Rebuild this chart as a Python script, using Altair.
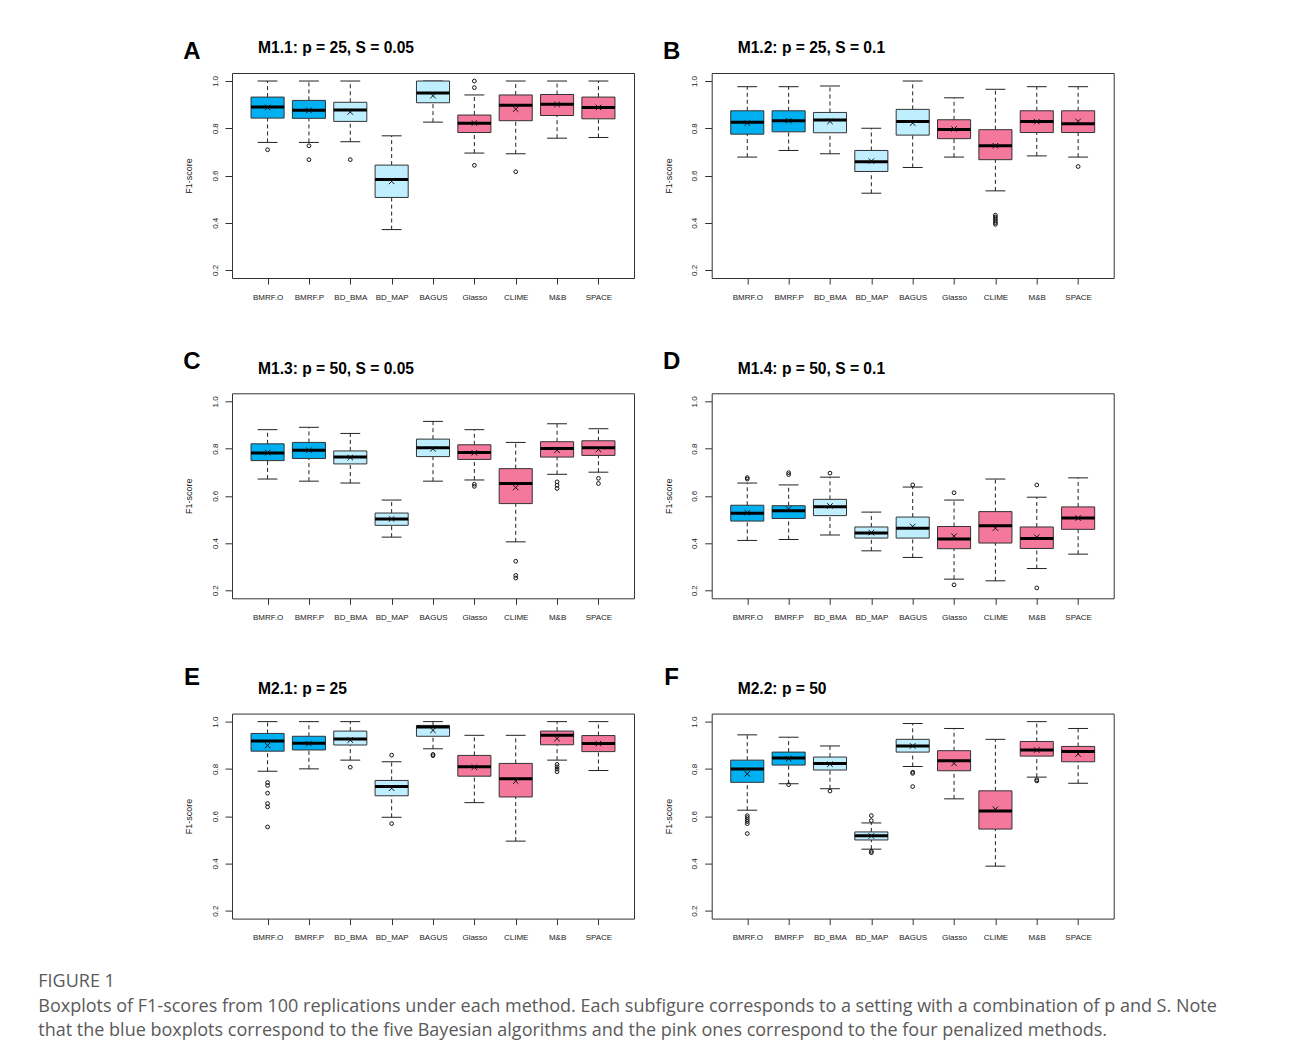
import altair as alt
import pandas as pd

methods = ["BMRF.O", "BMRF.P", "BD_BMA", "BD_MAP", "BAGUS", "Glasso", "CLIME", "M&B", "SPACE"]
groups = ["bayes_dark", "bayes_dark", "bayes_light", "bayes_light", "bayes_light",
          "penalized", "penalized", "penalized", "penalized"]
group_domain = ["bayes_dark", "bayes_light", "penalized"]
group_colors = ["#00B0F0", "#BFEFFF", "#F4779C"]

letters = ["A", "B", "C", "D", "E", "F"]
titles = ["M1.1: p = 25, S = 0.05", "M1.2: p = 25, S = 0.1",
          "M1.3: p = 50, S = 0.05", "M1.4: p = 50, S = 0.1",
          "M2.1: p = 25", "M2.2: p = 50"]
letter_dy = [-14.5, -14.5, -24.4, -24.4, -29, -29]

# Panel A
A_lo = [0.740, 0.740, 0.743, 0.371, 0.826, 0.695, 0.692, 0.758, 0.761]
A_q1 = [0.843, 0.842, 0.829, 0.507, 0.908, 0.782, 0.832, 0.854, 0.840]
A_med = [0.890, 0.876, 0.877, 0.583, 0.949, 0.821, 0.897, 0.902, 0.888]
A_q3 = [0.932, 0.918, 0.910, 0.644, 1.000, 0.856, 0.941, 0.943, 0.932]
A_hi = [1.000, 1.000, 1.000, 0.768, 1.000, 0.941, 1.000, 1.000, 1.000]
A_mean = [0.888, 0.876, 0.869, 0.575, 0.938, 0.822, 0.881, 0.901, 0.888]
A_out_m = ["BMRF.O", "BMRF.P", "BMRF.P", "BD_BMA", "Glasso", "Glasso", "Glasso", "CLIME"]
A_out_v = [0.709, 0.726, 0.667, 0.667, 1.000, 0.972, 0.643, 0.616]

# Panel B
B_lo = [0.678, 0.706, 0.692, 0.525, 0.634, 0.678, 0.535, 0.683, 0.678]
B_q1 = [0.775, 0.785, 0.781, 0.617, 0.771, 0.756, 0.667, 0.782, 0.782]
B_med = [0.825, 0.832, 0.835, 0.658, 0.829, 0.795, 0.726, 0.829, 0.819]
B_q3 = [0.874, 0.874, 0.867, 0.706, 0.880, 0.836, 0.794, 0.874, 0.874]
B_hi = [0.976, 0.976, 0.979, 0.800, 1.000, 0.929, 0.965, 0.976, 0.976]
B_mean = [0.822, 0.832, 0.829, 0.661, 0.822, 0.797, 0.726, 0.828, 0.829]
B_out_m = ["CLIME", "CLIME", "CLIME", "CLIME", "CLIME", "CLIME", "SPACE"]
B_out_v = [0.432, 0.424, 0.416, 0.408, 0.400, 0.393, 0.638]

# Panel C
C_lo = [0.671, 0.662, 0.654, 0.425, 0.662, 0.667, 0.405, 0.691, 0.700]
C_q1 = [0.749, 0.758, 0.735, 0.475, 0.766, 0.754, 0.567, 0.764, 0.771]
C_med = [0.781, 0.793, 0.764, 0.502, 0.803, 0.783, 0.652, 0.800, 0.803]
C_q3 = [0.820, 0.826, 0.790, 0.527, 0.840, 0.816, 0.715, 0.829, 0.833]
C_hi = [0.880, 0.890, 0.864, 0.582, 0.915, 0.880, 0.826, 0.905, 0.884]
C_mean = [0.783, 0.793, 0.762, 0.502, 0.799, 0.782, 0.635, 0.793, 0.796]
C_out_m = ["Glasso", "Glasso", "CLIME", "CLIME", "CLIME", "M&B", "M&B", "M&B", "SPACE", "SPACE"]
C_out_v = [0.649, 0.640, 0.323, 0.263, 0.252, 0.659, 0.645, 0.631, 0.674, 0.652]

# Panel D
D_lo = [0.411, 0.415, 0.434, 0.367, 0.339, 0.247, 0.240, 0.292, 0.353]
D_q1 = [0.493, 0.504, 0.516, 0.421, 0.421, 0.376, 0.400, 0.377, 0.458]
D_med = [0.526, 0.537, 0.554, 0.442, 0.463, 0.417, 0.473, 0.419, 0.506]
D_q3 = [0.560, 0.558, 0.585, 0.468, 0.510, 0.470, 0.533, 0.468, 0.553]
D_hi = [0.654, 0.646, 0.679, 0.531, 0.637, 0.582, 0.671, 0.594, 0.676]
D_mean = [0.528, 0.544, 0.557, 0.444, 0.470, 0.429, 0.463, 0.425, 0.506]
D_out_m = ["BMRF.O", "BMRF.O", "BMRF.P", "BMRF.P", "BD_BMA", "BAGUS", "Glasso", "Glasso", "M&B", "M&B"]
D_out_v = [0.677, 0.671, 0.698, 0.690, 0.696, 0.646, 0.613, 0.223, 0.646, 0.210]

# Panel E
E_lo = [0.790, 0.800, 0.837, 0.595, 0.885, 0.657, 0.494, 0.837, 0.793]
E_q1 = [0.875, 0.880, 0.901, 0.686, 0.938, 0.769, 0.681, 0.902, 0.873]
E_med = [0.918, 0.908, 0.926, 0.725, 0.977, 0.809, 0.758, 0.942, 0.907]
E_q3 = [0.950, 0.938, 0.960, 0.751, 0.984, 0.857, 0.823, 0.960, 0.941]
E_hi = [1.000, 1.000, 1.000, 0.830, 1.000, 0.942, 0.942, 1.000, 1.000]
E_mean = [0.899, 0.907, 0.922, 0.718, 0.963, 0.807, 0.748, 0.928, 0.907]
E_out_m = ["BMRF.O", "BMRF.O", "BMRF.O", "BMRF.O", "BMRF.O", "BMRF.O", "BD_BMA",
           "BD_MAP", "BD_MAP", "BAGUS", "BAGUS", "M&B", "M&B", "M&B", "M&B"]
E_out_v = [0.742, 0.730, 0.697, 0.653, 0.639, 0.554, 0.807,
           0.858, 0.568, 0.861, 0.856, 0.819, 0.809, 0.799, 0.788]

# Panel F
F_lo = [0.625, 0.737, 0.716, 0.460, 0.810, 0.673, 0.388, 0.765, 0.739]
F_q1 = [0.743, 0.816, 0.795, 0.499, 0.871, 0.792, 0.545, 0.854, 0.830]
F_med = [0.799, 0.846, 0.823, 0.517, 0.897, 0.834, 0.622, 0.880, 0.873]
F_q3 = [0.837, 0.871, 0.850, 0.533, 0.925, 0.877, 0.707, 0.916, 0.895]
F_hi = [0.944, 0.934, 0.897, 0.571, 0.992, 0.971, 0.925, 1.000, 0.971]
F_mean = [0.779, 0.843, 0.820, 0.516, 0.897, 0.823, 0.629, 0.880, 0.863]
F_out_m = ["BMRF.O", "BMRF.O", "BMRF.O", "BMRF.O", "BMRF.O", "BMRF.O", "BMRF.P", "BD_BMA",
           "BD_MAP", "BD_MAP", "BD_MAP", "BD_MAP", "BAGUS", "BAGUS", "BAGUS", "M&B", "M&B"]
F_out_v = [0.602, 0.594, 0.585, 0.577, 0.568, 0.526, 0.733, 0.706,
           0.602, 0.581, 0.451, 0.445, 0.786, 0.781, 0.725, 0.754, 0.749]

caption_head = "FIGURE 1"
caption_lines = [
    "Boxplots of F1-scores from 100 replications under each method. Each subfigure corresponds to a setting with a combination of p and S. Note",
    "that the blue boxplots correspond to the five Bayesian algorithms and the pink ones correspond to the four penalized methods.",
]

PLOT_W, PLOT_H = 402, 205
FONT = "Liberation Sans"

label_js = "[" + ",".join("'" + m + "'" for m in methods) + "]"
xscale = alt.Scale(domain=[0.14, 9.86], nice=False, zero=False)
yscale = alt.Scale(domain=[0.166, 1.034], nice=False, zero=False)
xaxis = alt.Axis(values=list(range(1, 10)), labelExpr=label_js + "[datum.value - 1]",
                 title=None, domain=False, grid=False, tickSize=6, tickColor="#333",
                 labelFont=FONT, labelFontSize=8, labelColor="#222", labelPadding=9,
                 labelAngle=0, labelOverlap=False, labelFlush=False)
yaxis = alt.Axis(values=[0.2, 0.4, 0.6, 0.8, 1.0], format=".1f", title="F1-score",
                 titleX=-43.7, titleY=PLOT_H / 2, titleAngle=270, titleAlign="center",
                 titleBaseline="middle", titleFont=FONT, titleFontSize=9,
                 titleFontWeight="normal", titleColor="#222",
                 domain=False, grid=False, tickSize=7, tickColor="#333",
                 labelFont=FONT, labelFontSize=8, labelColor="#222", labelAngle=270,
                 labelAlign="center", labelBaseline="middle", labelPadding=10,
                 labelOverlap=False, labelFlush=False)


def X(f):
    return alt.X(f + ":Q", scale=xscale, axis=xaxis)


def Y(f):
    return alt.Y(f + ":Q", scale=yscale, axis=yaxis)


def panel(k, lo, q1, med, q3, hi, mean, out_m, out_v):
    df = pd.DataFrame({"method": methods, "group": groups, "lo": lo, "q1": q1,
                       "med": med, "q3": q3, "hi": hi, "mean": mean})
    df["i"] = [methods.index(m) + 1 for m in methods]
    od = pd.DataFrame({"i": [methods.index(m) + 1 for m in out_m], "v": out_v})
    base = alt.Chart(df).transform_calculate(
        xl="datum.i - 0.4", xr="datum.i + 0.4", sl="datum.i - 0.24", sr="datum.i + 0.24")
    wl = base.mark_rule(color="#222", strokeDash=[4, 3], strokeWidth=1).encode(
        x=X("i"), y=Y("lo"), y2="q1:Q")
    wh = base.mark_rule(color="#222", strokeDash=[4, 3], strokeWidth=1).encode(
        x=X("i"), y=Y("q3"), y2="hi:Q")
    sl = base.mark_rule(color="#222", strokeWidth=1).encode(x=X("sl"), x2="sr:Q", y=Y("lo"))
    sh = base.mark_rule(color="#222", strokeWidth=1).encode(x=X("sl"), x2="sr:Q", y=Y("hi"))
    box = base.mark_bar(stroke="#333", strokeWidth=1).encode(
        x=X("xl"), x2="xr:Q", y=Y("q1"), y2="q3:Q",
        fill=alt.Fill("group:N", scale=alt.Scale(domain=group_domain, range=group_colors),
                      legend=None))
    md = base.mark_rule(color="black", strokeWidth=3).encode(x=X("xl"), x2="xr:Q", y=Y("med"))
    mn = base.mark_point(shape="M-1,-1L1,1M-1,1L1,-1", filled=False, color="#111",
                         size=30, strokeWidth=1, opacity=1).encode(x=X("i"), y=Y("mean"))
    out = alt.Chart(od).mark_point(shape="circle", filled=False, color="#111", size=14,
                                   strokeWidth=1, opacity=1).encode(x=X("i"), y=Y("v"))
    lt = alt.Chart(pd.DataFrame({"t": [letters[k]]})).mark_text(
        font=FONT, fontSize=24, fontWeight="bold", align="center", baseline="alphabetic",
        color="black").encode(text="t:N", x=alt.value(-40), y=alt.value(letter_dy[k]))
    tt = alt.Chart(pd.DataFrame({"t": [titles[k]]})).mark_text(
        font=FONT, fontSize=15.6, fontWeight="bold", align="left", baseline="alphabetic",
        color="black").encode(text="t:N", x=alt.value(26), y=alt.value(-19.7))
    return alt.layer(wl, wh, sl, sh, box, md, mn, out, lt, tt).properties(
        width=PLOT_W, height=PLOT_H)


panels = [
    panel(0, A_lo, A_q1, A_med, A_q3, A_hi, A_mean, A_out_m, A_out_v),
    panel(1, B_lo, B_q1, B_med, B_q3, B_hi, B_mean, B_out_m, B_out_v),
    panel(2, C_lo, C_q1, C_med, C_q3, C_hi, C_mean, C_out_m, C_out_v),
    panel(3, D_lo, D_q1, D_med, D_q3, D_hi, D_mean, D_out_m, D_out_v),
    panel(4, E_lo, E_q1, E_med, E_q3, E_hi, E_mean, E_out_m, E_out_v),
    panel(5, F_lo, F_q1, F_med, F_q3, F_hi, F_mean, F_out_m, F_out_v),
]

chart = alt.concat(*panels, columns=2, spacing={"row": 115.3, "column": 77.7},
                   bounds="flush").properties(
    title=alt.TitleParams(
        text=caption_head, subtitle=caption_lines, orient="bottom", anchor="start",
        frame="group", dx=-193.7, offset=31, font="Open Sans", fontSize=18,
        fontWeight="normal", color="#5a5a5a", subtitleFont="Open Sans", subtitleFontSize=18,
        subtitleColor="#5a5a5a", subtitleLineHeight=24, subtitlePadding=7),
    padding={"left": 30, "top": 31, "right": 10, "bottom": 5},
).configure_view(stroke="#333", strokeWidth=1)

chart.save("out.html", embed_options={"renderer": "svg", "actions": False})
